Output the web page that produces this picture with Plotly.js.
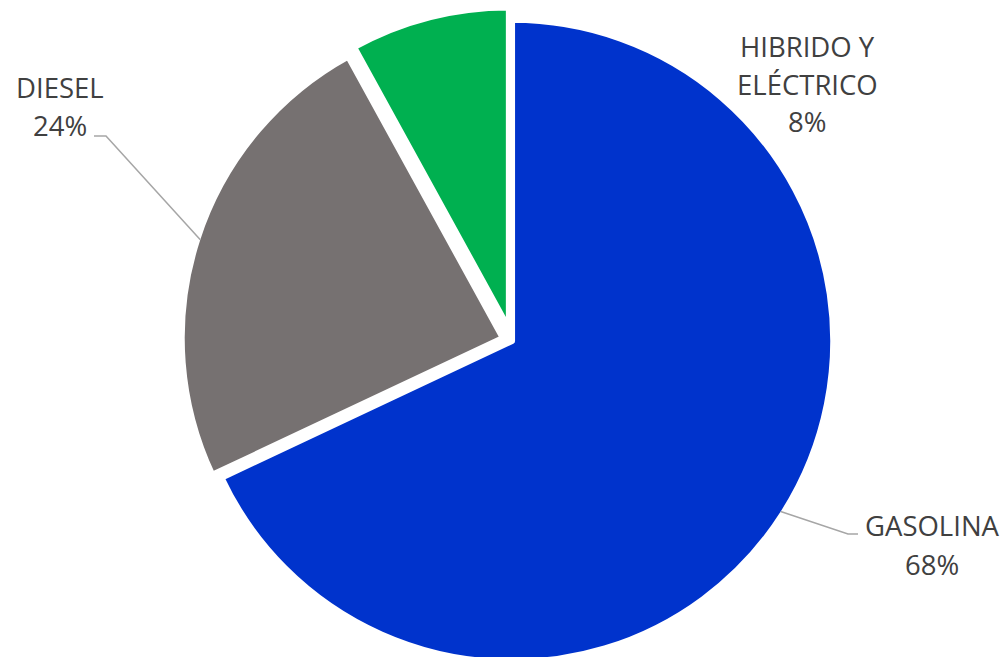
<!DOCTYPE html>
<html><head><meta charset="utf-8">
<script src="https://cdn.plot.ly/plotly-3.0.1.min.js"></script>
<style>html,body{margin:0;padding:0;overflow:hidden;background:#fff}</style>
</head><body><div id="chart"></div>
<script>
// ---- data ----
const categories = ['GASOLINA', 'DIESEL', 'HIBRIDO Y ELÉCTRICO'];
const labelLines = [['GASOLINA'], ['DIESEL'], ['HIBRIDO Y', 'ELÉCTRICO']];
const values = [68, 24, 8];

// ---- styles / layout ----
const colors = ['#0033CC', '#767171', '#00B050'];
const pulls = [0, 0.03, 0.04];
const W = 1006, H = 675, T = 7;
const dom = {x: [0.018, 1], y: [0, 1]};
const labelPos = [{x: 932, y: [525, 564]}, {x: 60, y: [87, 126]}, {x: 807, y: [46, 84, 122]}];
const leaderElbows = [[[848, 534], [858, 534]], [[106, 136], [94, 136]], null];

const total = values.reduce((a, b) => a + b, 0);
const pct = values.map(v => Math.round(v / total * 100) + '%');

// pie geometry (same rule as plotly's pie scaling)
const plotH = H - T;
const boxW = W * (dom.x[1] - dom.x[0]), boxH = plotH * (dom.y[1] - dom.y[0]);
const maxPull = Math.max(...pulls);
const r = Math.min(boxW, boxH) / (2 + 2 * maxPull);
const cx = W * (dom.x[0] + dom.x[1]) / 2;
const cy = T + plotH * (1 - dom.y[0]) - boxH / 2;

const px = x => x / W;
const py = y => 1 - (y - T) / plotH;

const shapes = [];
const annotations = [];
let cum = 0;
values.forEach((v, i) => {
  const mid = (cum + v / 2) / total * 2 * Math.PI;
  cum += v;
  const sx = Math.sin(mid), sy = -Math.cos(mid);
  const rr = r * pulls[i] + r - 3;
  const ex = cx + rr * sx, ey = cy + rr * sy;
  if (leaderElbows[i]) {
    const [a, b] = leaderElbows[i];
    shapes.push({
      type: 'path', xref: 'paper', yref: 'paper',
      path: `M ${px(ex)},${py(ey)} L ${px(a[0])},${py(a[1])} L ${px(b[0])},${py(b[1])}`,
      line: {color: '#A6A6A6', width: 1.5}
    });
  }
  const lines = labelLines[i].concat([pct[i]]);
  lines.forEach((t, j) => {
    annotations.push({
      xref: 'paper', yref: 'paper', x: px(labelPos[i].x), y: py(labelPos[i].y[j]),
      xanchor: 'center', yanchor: 'middle', showarrow: false, text: t,
      font: {family: 'Open Sans', size: 27.5, color: '#404040'}
    });
  });
});

const trace = {
  type: 'pie', labels: categories, values: values, sort: false,
  direction: 'clockwise', rotation: 0, pull: pulls,
  marker: {colors: colors, line: {color: '#ffffff', width: 6}},
  textinfo: 'none', hoverinfo: 'skip', domain: dom
};

Plotly.newPlot('chart', [trace], {
  width: W, height: H, margin: {l: 0, r: 0, t: T, b: 0},
  showlegend: false, paper_bgcolor: '#ffffff', plot_bgcolor: '#ffffff',
  shapes: shapes, annotations: annotations
}, {displayModeBar: false, staticPlot: true});
</script></body></html>
